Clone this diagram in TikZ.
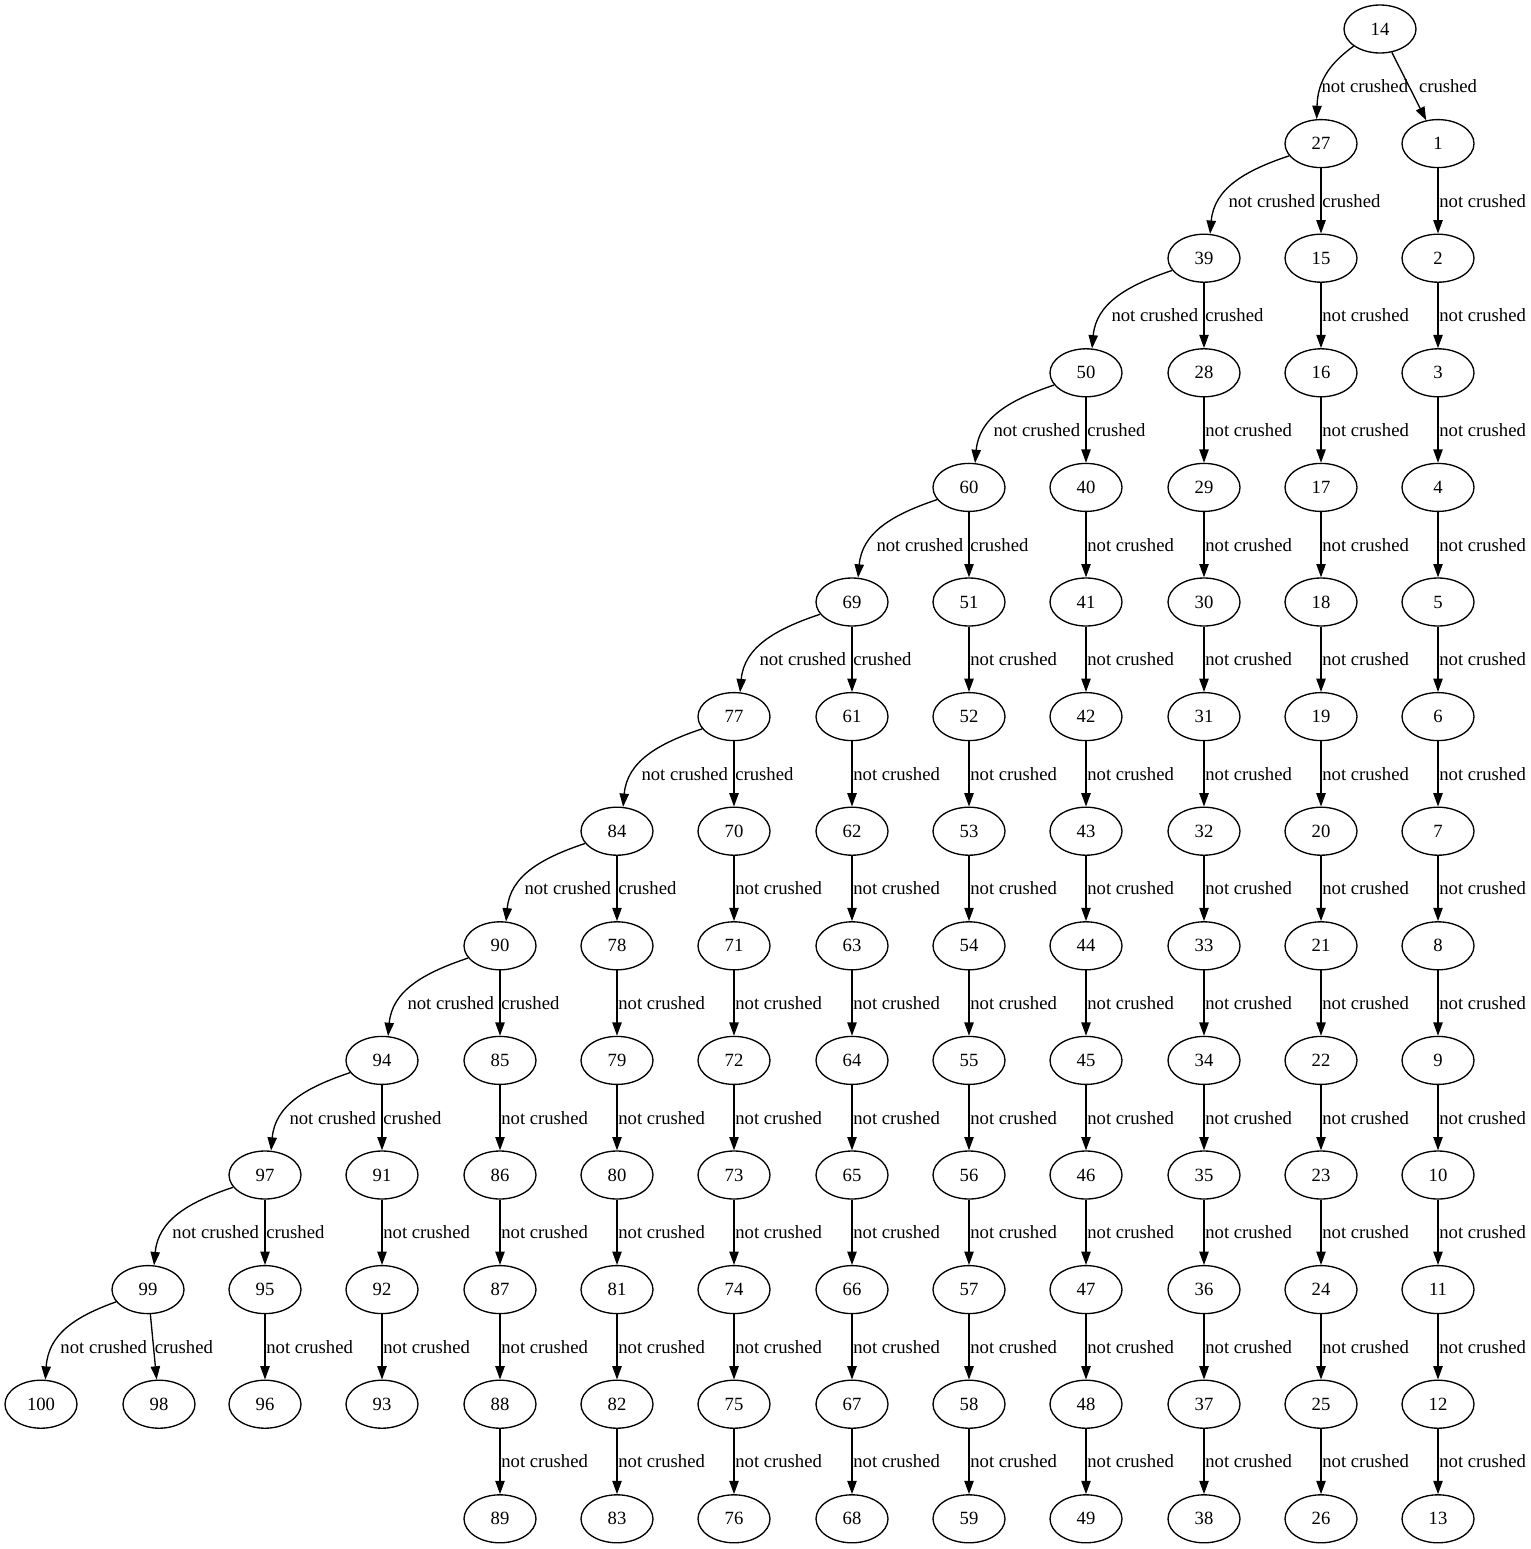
\documentclass[tikz,border=0pt]{standalone}
\usepackage{fontspec}
\setmainfont{Liberation Serif}
\usetikzlibrary{arrows.meta,shapes.geometric}
\begin{document}
\begin{tikzpicture}[x=0.75pt,y=-0.75pt,
  gnode/.style={draw, ellipse, minimum width=54pt, minimum height=36pt, inner sep=0pt, line width=1pt, font=\fontsize{14}{16}\selectfont},
  edge/.style={line width=1pt, -{Triangle[length=10pt,width=7pt]}},
  lbl/.style={inner sep=0.5pt, font=\fontsize{14}{16}\selectfont}]
\useasboundingbox (0,0) rectangle (1531,1549);

% root
\node[gnode] (n14) at (1380,29) {14};

% vertical chains
\foreach \x/\s/\e/\r in {1438/1/13/1, 1321/15/26/2, 1204/28/38/3, 1086/40/49/4, 969/51/59/5, 852/61/68/6, 734/70/76/7, 617/78/83/8, 500/85/89/9, 382/91/93/10, 265/95/96/11} {
  \foreach \n in {\s,...,\e} {
    \pgfmathsetmacro\yy{29+114.6*(\r+\n-\s)}
    \node[gnode] (n\n) at (\x,\yy) {\n};
  }
  \pgfmathtruncatemacro\last{\e-1}
  \foreach \n in {\s,...,\last} {
    \pgfmathtruncatemacro\m{\n+1}
    \draw[edge] (n\n) -- (n\m) node[lbl, midway, anchor=west] {not crushed};
  }
}

% spine nodes
\foreach \n/\x/\y in {27/1321/143.6, 39/1204/258.2, 50/1086/372.8, 60/969/487.4, 69/852/602, 77/734/716.6, 84/617/831.2, 90/500/945.8, 94/382/1060.4, 97/265/1175, 99/148/1289.6} {
  \node[gnode] (n\n) at (\x,\y) {\n};
}
\node[gnode] (n100) at (41,1404.2) {100};
\node[gnode] (n98) at (159,1404.2) {98};

% root edges
\draw[edge] (n14.213) .. controls +(-22,16) and +(1,-40) .. (n27.100);
\node[lbl, anchor=east] (l14a) at (1409,86) {not crushed};
\draw[edge] (n14) -- (n1) node[lbl, midway, anchor=west, xshift=6.5pt] {crushed};

% spine "not crushed" curved edges
\foreach \p/\c/\x/\y in {27/39/1321/143.6, 39/50/1204/258.2, 50/60/1086/372.8, 60/69/969/487.4, 69/77/852/602, 77/84/734/716.6, 84/90/617/831.2, 90/94/500/945.8, 94/97/382/1060.4, 97/99/265/1175} {
  \draw[edge] (n\p.201) .. controls +(-45,15) and +(4,-45) .. (n\c.76);
  \node[lbl, anchor=east] at (\x-5,\y+57.3) {not crushed};
}
\draw[edge] (n99.201) .. controls +(-42,15) and +(3,-45) .. (n100.80);
\node[lbl, anchor=east] (l99a) at (148,1347) {not crushed};

% spine "crushed" edges
\foreach \p/\c in {27/15, 39/28, 50/40, 60/51, 69/61, 77/70, 84/78, 90/85, 94/91, 97/95, 99/98} {
  \draw[edge] (n\p) -- (n\c) node[lbl, midway, anchor=west] {crushed};
}
\end{tikzpicture}
\end{document}
